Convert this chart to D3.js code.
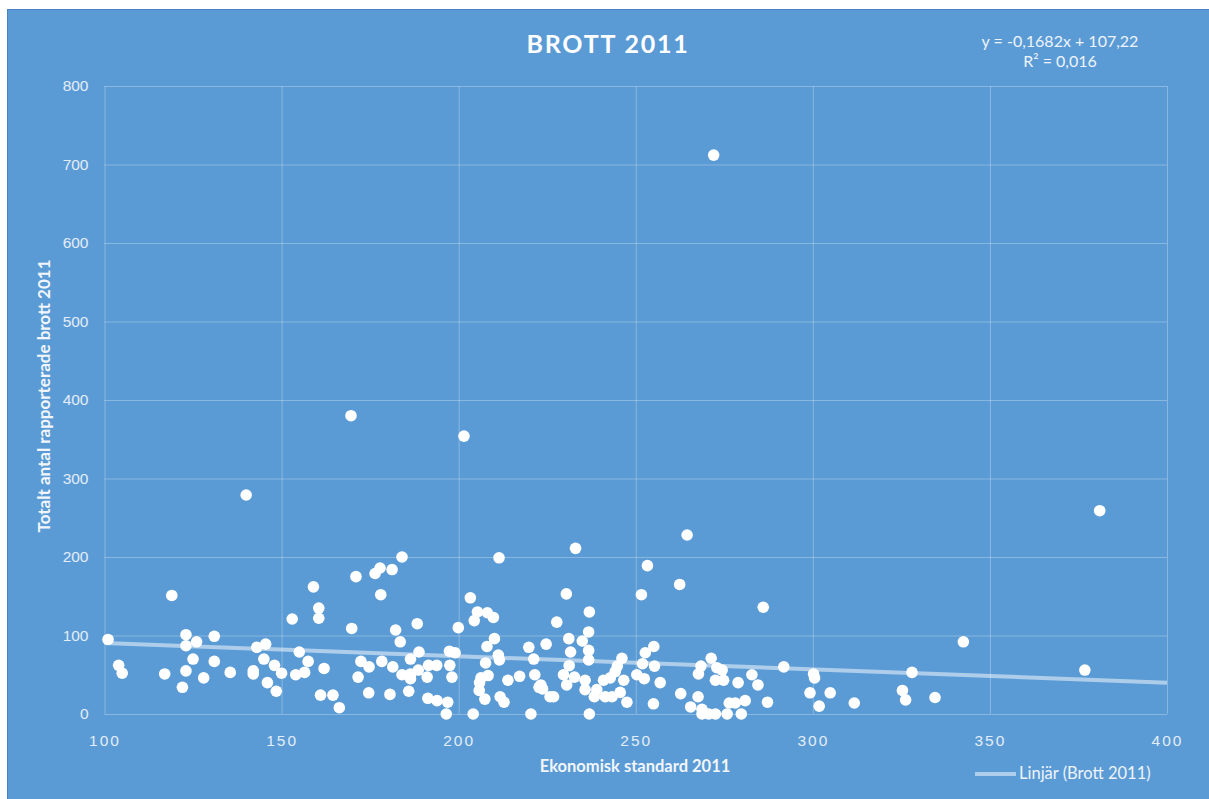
<!DOCTYPE html>
<html>
<head>
<meta charset="utf-8">
<script src="https://cdn.jsdelivr.net/npm/d3@7"></script>
<style>
  body { margin: 0; background: #fff; }
  svg { display: block; font-family: Lato, "Open Sans", sans-serif; }
  .tick text { fill: #e3edf8; font-size: 15.5px; }
  .grid line { stroke: rgba(255,255,255,0.28); }
</style>
</head>
<body>
<svg></svg>
<script>
const econStandard = [101,104,105,117,119,122,123,123,126,125,123,128,131,131,135.5,140,143,145.5,145,142,142,148,146,148.5,150,153,159,155,157.5,156.5,154,160.5,160.5,161,162,164.5,166.3,169.8,171,178,176.4,177.8,181.2,184,211.4,171.6,172.4,174.7,174.6,178.3,181.4,180.6,182.2,183.5,188.3,188.8,186.4,184,186.4,188.6,186.4,185.9,191.5,193.8,191.1,191.3,193.9,196.9,196.5,197.5,198.1,197.4,199,199.9,203.3,205.3,208.1,209.8,204.4,204.1,210.1,208,211.2,211.5,207.6,206.3,208.3,205.9,205.8,207.4,211.7,212.8,213.9,217.2,219.8,221.2,221.5,222.7,220.4,233,264.5,253.3,262.4,251.6,230.4,236.9,227.7,236.7,231.1,234.9,224.7,231.6,236.7,236.7,231.2,229.6,232.7,230.5,223.2,223.7,225.8,226.8,235.7,235.7,236.9,239,238.3,241.4,243.3,245.6,240.9,242.8,244.2,244.8,246.1,246.6,247.5,250.3,252.4,251.9,252.7,255.1,255.3,256.9,255,262.7,265.5,267.6,268.4,267.7,268.7,270.6,272.5,268.7,271.3,272.9,274.4,272.5,274.8,275.8,276.4,278.1,278.9,279.8,280.9,282.8,284.5,286,287.2,291.8,300.2,300.5,299.2,301.8,304.9,311.7,325.3,326.2,328,334.5,342.5,381,376.8,272,169.6,201.5];
const crimes2011 = [95,62,52,51,151,34,101,87,92,70,55,46,99,67,53,279,85,89,70,55,51,62,40,29,52,121,162,79,67,53,50,135,122,24,58,24,8,109,175,152,179,186,184,200,199,47,67,60,27,67,60,25,107,92,115,79,70,50,51,56,45,29,62,62,47,20,17,15,0,62,47,80,78,110,148,130,129,123,119,0,96,86,75,69,65,46,49,40,30,19,22,15,43,48,85,70,50,34,0,211,228,189,165,152,153,130,117,104.5,96,93,89,79,81,69,61.5,50,47,37,37,32,22,22,43,31,0,31,22,22,22,27.5,43,46,54,61,71,43,15,50,45,64,78,86,61,40,13,26,9,22,61,51,6,0,0,0,71,59,56,43,43,0,14,14,40,0,17,50,37,136,15,60,51,46,27,10,27,14,30,18,53,21,92,259,56,712,380,354];
const xTicks = [100,150,200,250,300,350,400];
const yTicks = [0,100,200,300,400,500,600,700,800];
const trendSlope = -0.1682;
const trendIntercept = 107.22;
const title = "BROTT 2011";
const xAxisLabel = "Ekonomisk standard 2011";
const yAxisLabel = "Totalt antal rapporterade brott 2011";
const legendLabel = "Linjär (Brott 2011)";

const width = 1209, height = 799;
const margin = {top: 86, right: 42, bottom: 85, left: 104.5};
const innerWidth = width - margin.left - margin.right;
const innerHeight = height - margin.top - margin.bottom;

const svg = d3.select('svg')
  .attr('width', width)
  .attr('height', height);

// chart background, border only on top and left (the rest runs off the page)
svg.append('rect')
  .attr('x', 7).attr('y', 9)
  .attr('width', width - 7).attr('height', height - 9)
  .attr('fill', '#5b9bd5');
svg.append('path')
  .attr('d', `M7.5,${height}V9.5H${width}`)
  .attr('fill', 'none')
  .attr('stroke', '#4a7fc4');

const xScale = d3.scaleLinear().domain([100, 400]).range([0, innerWidth]);
const yScale = d3.scaleLinear().domain([0, 800]).range([innerHeight, 0]);

const g = svg.append('g')
  .attr('transform', `translate(${margin.left},${margin.top})`);

// gridlines + tick labels
const yAxisG = g.append('g').attr('class', 'grid')
  .call(d3.axisLeft(yScale).tickValues(yTicks).tickSize(-innerWidth).tickPadding(16));
yAxisG.select('.domain').remove();

const xAxisG = g.append('g').attr('class', 'grid')
  .attr('transform', `translate(0,${innerHeight})`)
  .call(d3.axisBottom(xScale).tickValues(xTicks).tickSize(-innerHeight).tickPadding(16));
xAxisG.select('.domain').remove();
xAxisG.selectAll('text').attr('letter-spacing', '2px').attr('dy', '1.05em');

// trendline
const trendX = xScale.domain();
g.append('line')
  .attr('x1', xScale(trendX[0])).attr('y1', yScale(trendSlope * trendX[0] + trendIntercept))
  .attr('x2', xScale(trendX[1])).attr('y2', yScale(trendSlope * trendX[1] + trendIntercept))
  .attr('stroke', 'rgba(255,255,255,0.5)')
  .attr('stroke-width', 4);

// points
g.selectAll('circle').data(econStandard)
  .enter().append('circle')
  .attr('cx', d => xScale(d))
  .attr('cy', (d, i) => yScale(crimes2011[i]))
  .attr('r', 5.8)
  .attr('fill', '#fff');

// titles
svg.append('text')
  .attr('x', 608).attr('y', 53)
  .attr('text-anchor', 'middle')
  .attr('fill', '#fff')
  .attr('font-size', 25).attr('font-weight', 'bold')
  .attr('letter-spacing', '1.8px')
  .text(title);

svg.append('text')
  .attr('x', 635).attr('y', 772)
  .attr('text-anchor', 'middle')
  .attr('fill', '#f2f6fb')
  .attr('font-size', 16.5).attr('font-weight', 'bold')
  .text(xAxisLabel);

svg.append('text')
  .attr('transform', `translate(50,${396}) rotate(-90)`)
  .attr('text-anchor', 'middle')
  .attr('fill', '#f2f6fb')
  .attr('font-size', 17).attr('font-weight', 'bold')
  .text(yAxisLabel);

// equation
const eq = svg.append('text')
  .attr('text-anchor', 'middle')
  .attr('fill', '#eef4fb')
  .attr('font-size', 16);
eq.append('tspan').attr('x', 1060).attr('y', 47).text('y = -0,1682x + 107,22');
eq.append('tspan').attr('x', 1060).attr('y', 67).text('R² = 0,016');

// legend
svg.append('line')
  .attr('x1', 975).attr('x2', 1016).attr('y1', 774).attr('y2', 774)
  .attr('stroke', 'rgba(255,255,255,0.5)').attr('stroke-width', 4);
svg.append('text')
  .attr('x', 1019).attr('y', 779)
  .attr('fill', '#eef4fb')
  .attr('font-size', 16.5)
  .text(legendLabel);
</script>
</body>
</html>
